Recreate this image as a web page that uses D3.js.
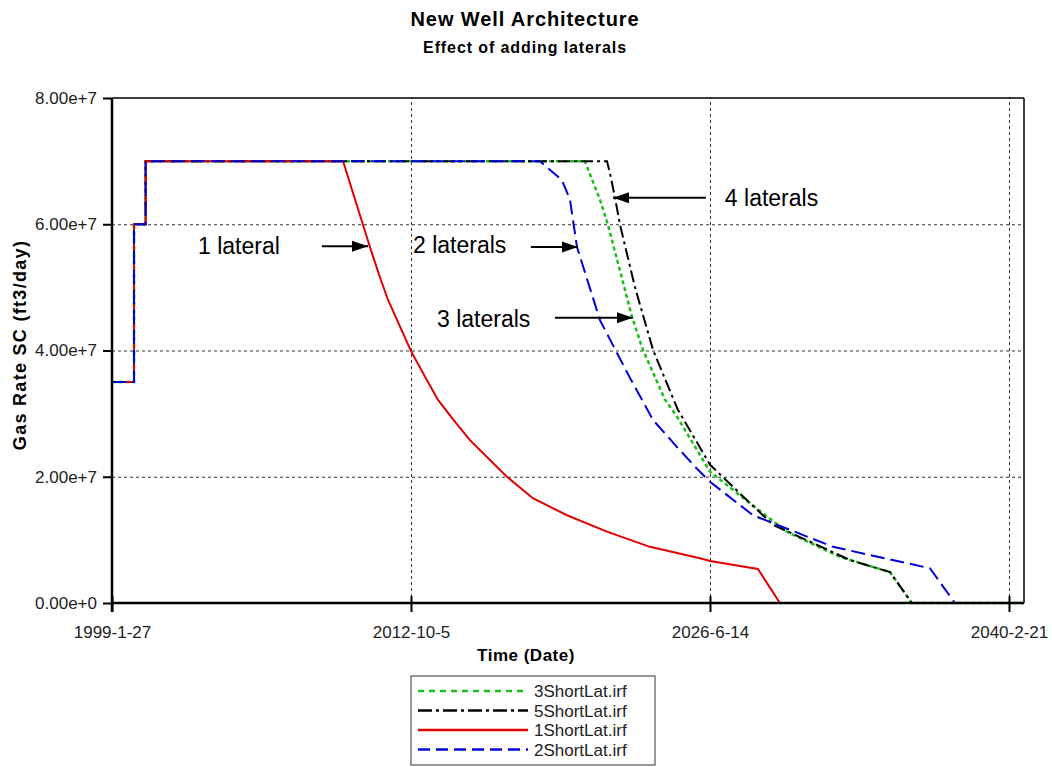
<!doctype html>
<html lang="en">
<head>
  <meta charset="utf-8">
  <title>New Well Architecture</title>
  <script src="https://cdn.jsdelivr.net/npm/d3@7/dist/d3.min.js"></script>
  <style>
    body { margin: 0; background: #fff; }
    svg { display: block; font-family: Arial, "Liberation Sans", sans-serif; }
    .grid line { stroke: #333; stroke-dasharray: 3,3; }
    .tick text { fill: #222; }
  </style>
</head>
<body>
  <svg id="chart"></svg>

  <script>
    'use strict';

    // --- data (x in decimal years, y in ft3/day) ---
    var rampUp = [[1999.07, 3.5e7], [2000.08, 3.5e7], [2000.08, 6.0e7], [2000.61, 6.0e7], [2000.61, 7.0e7]];

    var lat3 = [[2020.72, 7.0e7], [2021.41, 6.39e7], [2021.78, 5.99e7], [2022.88, 4.53e7], [2023.38, 4.01e7],
                [2024.39, 3.22e7], [2024.94, 2.95e7], [2026.45, 2.08e7], [2028.28, 1.58e7], [2029.97, 1.13e7],
                [2032.40, 0.73e7], [2034.69, 0.49e7], [2035.69, 0], [2040.82, 0]];

    var lat5 = [[2021.73, 7.0e7], [2021.87, 6.81e7], [2022.10, 6.42e7], [2022.33, 5.99e7], [2023.01, 5.01e7],
                [2023.84, 4.01e7], [2024.98, 3.06e7], [2026.45, 2.19e7], [2028.14, 1.63e7], [2029.33, 1.24e7],
                [2032.86, 0.68e7], [2034.69, 0.49e7], [2035.69, 0], [2040.82, 0]];

    var lat1 = [[2009.65, 7.0e7], [2010.88, 5.64e7], [2011.30, 5.20e7], [2011.71, 4.80e7], [2012.76, 3.99e7],
                [2013.49, 3.53e7], [2013.99, 3.22e7], [2014.64, 2.93e7], [2015.46, 2.58e7], [2017.15, 2.00e7],
                [2018.34, 1.66e7], [2019.90, 1.39e7], [2021.73, 1.13e7], [2023.70, 0.89e7], [2025.99, 0.71e7],
                [2026.45, 0.665e7], [2028.64, 0.54e7], [2029.65, 0], [2040.82, 0]];

    var lat2 = [[2018.66, 7.0e7], [2019.67, 6.70e7], [2020.04, 6.39e7], [2020.36, 5.64e7], [2021.41, 4.48e7],
                [2022.78, 3.57e7], [2023.84, 2.90e7], [2024.94, 2.47e7], [2025.90, 2.11e7], [2026.45, 1.92e7],
                [2028.42, 1.39e7], [2032.08, 0.89e7], [2036.52, 0.55e7], [2037.66, 0], [2040.82, 0]];

    var seriesNames = ["3ShortLat.irf", "5ShortLat.irf", "1ShortLat.irf", "2ShortLat.irf"];
    var seriesData = [lat3, lat5, lat1, lat2];

    var xTickLabels = ["1999-01-27", "2012-10-05", "2026-06-14", "2040-02-21"];
    var yTicks = [0, 2e7, 4e7, 6e7, 8e7];
    var xDomain = ["1999-01-27", "2040-10-29"];

    // annotation text + arrows, in data units
    var notes = [
      { label: "1 lateral",  text: [2003.01, 5.53e7], from: [2008.68, 5.65e7], to: [2010.79, 5.65e7] },
      { label: "2 laterals", text: [2012.85, 5.55e7], from: [2018.25, 5.64e7], to: [2020.40, 5.64e7] },
      { label: "3 laterals", text: [2013.95, 4.37e7], from: [2019.35, 4.52e7], to: [2022.92, 4.52e7] },
      { label: "4 laterals", text: [2027.13, 6.29e7], from: [2026.26, 6.42e7], to: [2022.01, 6.42e7] }
    ];

    // --- styles ---
    var colors = ["#19c019", "#000000", "#e00000", "#0000d8"];
    var dashes = ["4,3", "12,4,3,4", null, "14,6"];
    var legendDashes = ["6,5", "14,4,3,4", null, "12,6"];

    var WIDTH = 1052, HEIGHT = 767;
    var LEFT = 112, RIGHT = 1024, TOP = 98, BOTTOM = 603;

    function yearToDate(yr) {
      var y0 = Math.floor(yr);
      var a = Date.UTC(y0, 0, 1), b = Date.UTC(y0 + 1, 0, 1);
      return new Date(a + (yr - y0) * (b - a));
    }
    var parse = d3.utcParse("%Y-%m-%d");

    var svg = d3.select("#chart").attr("width", WIDTH).attr("height", HEIGHT);
    svg.append("rect").attr("width", WIDTH).attr("height", HEIGHT).attr("fill", "#fff");

    var x = d3.scaleUtc().domain(xDomain.map(parse)).range([LEFT, RIGHT]);
    var y = d3.scaleLinear().domain([0, 8e7]).range([BOTTOM, TOP]);

    // grid
    svg.append("g")
      .attr("class", "grid")
      .attr("transform", "translate(0," + BOTTOM + ")")
      .call(d3.axisBottom(x).tickValues(xTickLabels.slice(1).map(parse)).tickSize(-(BOTTOM - TOP)).tickFormat(""))
      .call(function(g){ g.select(".domain").remove(); });

    svg.append("g")
      .attr("class", "grid")
      .attr("transform", "translate(" + LEFT + ",0)")
      .call(d3.axisLeft(y).tickValues(yTicks.slice(1, 4)).tickSize(-(RIGHT - LEFT)).tickFormat(""))
      .call(function(g){ g.select(".domain").remove(); });

    // frame top/right
    svg.append("line").attr("x1", LEFT).attr("x2", RIGHT).attr("y1", TOP).attr("y2", TOP)
      .attr("stroke", "#000").attr("stroke-width", 1.5);
    svg.append("line").attr("x1", RIGHT).attr("x2", RIGHT).attr("y1", TOP).attr("y2", BOTTOM)
      .attr("stroke", "#000").attr("stroke-width", 1.5);

    // series
    var line = d3.line()
      .x(function(d){ return x(yearToDate(d[0])); })
      .y(function(d){ return y(d[1]); });

    seriesData.forEach(function(s, i) {
      svg.append("path")
        .datum(rampUp.concat(s))
        .attr("d", line)
        .attr("fill", "none")
        .attr("stroke", colors[i])
        .attr("stroke-width", i === 0 ? 2.5 : 2)
        .attr("stroke-dasharray", dashes[i]);
    });

    // axes
    var xAxis = svg.append("g")
      .attr("transform", "translate(0," + BOTTOM + ")")
      .call(d3.axisBottom(x).tickValues(xTickLabels.map(parse)).tickSize(9).tickPadding(14)
        .tickFormat(d3.utcFormat("%Y-%-m-%-d")));
    xAxis.select(".domain").attr("d", "M" + LEFT + ",0H" + RIGHT).attr("stroke-width", 2.5);
    xAxis.selectAll(".tick line").attr("y1", -7).attr("stroke-width", 2);
    xAxis.selectAll(".tick text").attr("font-size", 17).attr("font-family", "Arial, 'Liberation Sans', sans-serif");

    var yAxis = svg.append("g")
      .attr("transform", "translate(" + LEFT + ",0)")
      .call(d3.axisLeft(y).tickValues(yTicks).tickSize(9).tickPadding(6).tickFormat(d3.format(".2e")));
    yAxis.select(".domain").attr("d", "M0," + TOP + "V" + (BOTTOM + 9)).attr("stroke-width", 2.5);
    yAxis.selectAll(".tick line").attr("stroke-width", 2);
    yAxis.selectAll(".tick text").attr("font-size", 17).attr("font-family", "Arial, 'Liberation Sans', sans-serif");

    // titles
    svg.append("text").attr("x", 525).attr("y", 26).attr("text-anchor", "middle")
      .attr("font-size", 20).attr("letter-spacing", 0.9).attr("font-weight", "bold").text("New Well Architecture");
    svg.append("text").attr("x", 525).attr("y", 53).attr("text-anchor", "middle")
      .attr("font-size", 16).attr("letter-spacing", 0.9).attr("font-weight", "bold").text("Effect of adding laterals");
    svg.append("text").attr("x", 526).attr("y", 661).attr("text-anchor", "middle")
      .attr("font-size", 17).attr("letter-spacing", 0.5).attr("font-weight", "bold").text("Time (Date)");
    svg.append("text").attr("transform", "translate(26,345) rotate(-90)").attr("text-anchor", "middle")
      .attr("font-size", 18).attr("letter-spacing", 1.3).attr("font-weight", "bold").text("Gas Rate SC (ft3/day)");

    // annotations
    svg.append("defs").append("marker")
      .attr("id", "arrow").attr("markerUnits", "userSpaceOnUse")
      .attr("viewBox", "0 -6 16 12").attr("refX", 16).attr("refY", 0)
      .attr("markerWidth", 16).attr("markerHeight", 12).attr("orient", "auto")
      .append("path").attr("d", "M0,-5.5L16,0L0,5.5Z").attr("fill", "#000");

    notes.forEach(function(n) {
      svg.append("text")
        .attr("x", x(yearToDate(n.text[0]))).attr("y", y(n.text[1]))
        .attr("font-size", 23).attr("fill", "#000").text(n.label);
      svg.append("line")
        .attr("x1", x(yearToDate(n.from[0]))).attr("y1", y(n.from[1]))
        .attr("x2", x(yearToDate(n.to[0]))).attr("y2", y(n.to[1]))
        .attr("stroke", "#000").attr("stroke-width", 2).attr("marker-end", "url(#arrow)");
    });

    // legend
    var legend = svg.append("g").attr("transform", "translate(411,676)");
    legend.append("rect").attr("width", 244).attr("height", 89)
      .attr("fill", "#fff").attr("stroke", "#333").attr("stroke-width", 1);
    seriesNames.forEach(function(name, i) {
      var ly = 15 + i * 19.5;
      legend.append("line").attr("x1", 7).attr("x2", 117).attr("y1", ly).attr("y2", ly)
        .attr("stroke", colors[i]).attr("stroke-width", 2.5).attr("stroke-dasharray", legendDashes[i]);
      legend.append("text").attr("x", 123).attr("y", ly + 6).attr("font-size", 17).attr("fill", "#222").text(name);
    });
  </script>
</body>
</html>
